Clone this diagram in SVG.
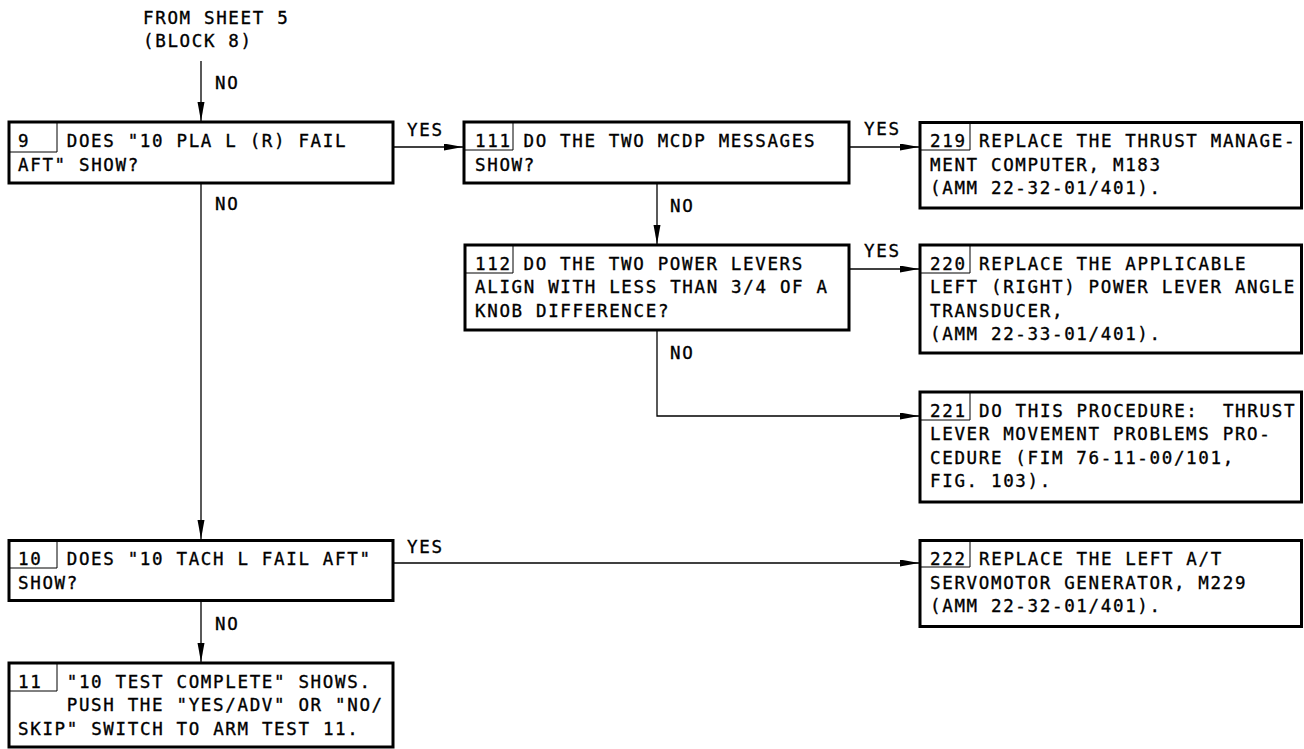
<svg xmlns="http://www.w3.org/2000/svg" width="1304" height="749" viewBox="0 0 1304 749" xml:space="preserve">
<style>
text{font-family:"DejaVu Sans Mono","Liberation Mono",monospace;font-size:17.5px;letter-spacing:1.66px;fill:#000;stroke:#000;stroke-width:0.35px;white-space:pre}
.box{fill:#fff;stroke:#000;stroke-width:3}
.cell{fill:none;stroke:#000;stroke-width:1}
.con{fill:none;stroke:#000;stroke-width:1.3}
</style>
<defs>
<marker id="arr" markerUnits="userSpaceOnUse" markerWidth="20" markerHeight="8" refX="19" refY="3.5" orient="auto">
<path d="M0,0 L19,3.5 L0,7 z" fill="#000"/>
</marker>
</defs>
<rect width="1304" height="749" fill="#fff"/>

<g id="start">
<text x="143" y="24">FROM SHEET 5</text>
<text x="143" y="47">(BLOCK 8)</text>
</g>

<g id="connectors">
<path class="con" d="M201,61 V121" marker-end="url(#arr)"/>
<path class="con" d="M394,147 H463" marker-end="url(#arr)"/>
<path class="con" d="M850,147 H919" marker-end="url(#arr)"/>
<path class="con" d="M657,184 V244" marker-end="url(#arr)"/>
<path class="con" d="M850,269 H919" marker-end="url(#arr)"/>
<path class="con" d="M657,331 V416 H919" marker-end="url(#arr)"/>
<path class="con" d="M201,184 V539" marker-end="url(#arr)"/>
<path class="con" d="M394,563 H919" marker-end="url(#arr)"/>
<path class="con" d="M201,602 V662" marker-end="url(#arr)"/>
<text x="215" y="89">NO</text>
<text x="407" y="136">YES</text>
<text x="864" y="135">YES</text>
<text x="670" y="212">NO</text>
<text x="864" y="257">YES</text>
<text x="670" y="359">NO</text>
<text x="215" y="210">NO</text>
<text x="407" y="553">YES</text>
<text x="215" y="630">NO</text>
</g>

<g id="node9">
<rect class="box" x="9" y="122" width="384" height="61"/>
<path class="cell" d="M9,152 H57 V122"/>
<text x="18" y="147">9</text>
<text x="66.7" y="147">DOES "10 PLA L (R) FAIL</text>
<text x="18" y="170.5">AFT" SHOW?</text>
</g>

<g id="node111">
<rect class="box" x="464" y="122" width="385" height="61"/>
<path class="cell" d="M464,150 H513 V122"/>
<text x="475" y="147">111</text>
<text x="523.5" y="147">DO THE TWO MCDP MESSAGES</text>
<text x="475" y="170.5">SHOW?</text>
</g>

<g id="node219">
<rect class="box" x="920" y="122.5" width="381.5" height="85.5"/>
<path class="cell" d="M920,150 H970 V122.5"/>
<text x="930" y="147">219</text>
<text x="979" y="147">REPLACE THE THRUST MANAGE-</text>
<text x="930" y="170.5">MENT COMPUTER, M183</text>
<text x="930" y="194">(AMM 22-32-01/401).</text>
</g>

<g id="node112">
<rect class="box" x="465" y="245" width="384" height="85"/>
<path class="cell" d="M465,273 H513 V245"/>
<text x="475" y="269.5">112</text>
<text x="523.5" y="269.5">DO THE TWO POWER LEVERS</text>
<text x="475" y="293">ALIGN WITH LESS THAN 3/4 OF A</text>
<text x="475" y="316.5">KNOB DIFFERENCE?</text>
</g>

<g id="node220">
<rect class="box" x="920" y="245" width="381.5" height="108"/>
<path class="cell" d="M920,273 H970 V245"/>
<text x="930" y="269.5">220</text>
<text x="979" y="269.5">REPLACE THE APPLICABLE</text>
<text x="930" y="293">LEFT (RIGHT) POWER LEVER ANGLE</text>
<text x="930" y="316.5">TRANSDUCER,</text>
<text x="930" y="340">(AMM 22-33-01/401).</text>
</g>

<g id="node221">
<rect class="box" x="920" y="392" width="381.5" height="110"/>
<path class="cell" d="M920,420 H970 V392"/>
<text x="930" y="416.5">221</text>
<text x="979" y="416.5">DO THIS PROCEDURE:  THRUST</text>
<text x="930" y="440">LEVER MOVEMENT PROBLEMS PRO-</text>
<text x="930" y="463.5">CEDURE (FIM 76-11-00/101,</text>
<text x="930" y="487">FIG. 103).</text>
</g>

<g id="node10">
<rect class="box" x="9" y="540.5" width="384" height="60"/>
<path class="cell" d="M9,568 H57 V540.5"/>
<text x="18" y="565">10</text>
<text x="66.7" y="565">DOES "10 TACH L FAIL AFT"</text>
<text x="18" y="588.5">SHOW?</text>
</g>

<g id="node222">
<rect class="box" x="920" y="540.5" width="381.5" height="86"/>
<path class="cell" d="M920,567 H970 V540.5"/>
<text x="930" y="565">222</text>
<text x="979" y="565">REPLACE THE LEFT A/T</text>
<text x="930" y="588.5">SERVOMOTOR GENERATOR, M229</text>
<text x="930" y="612">(AMM 22-32-01/401).</text>
</g>

<g id="node11">
<rect class="box" x="9" y="663" width="384" height="84"/>
<path class="cell" d="M9,691 H57 V663"/>
<text x="18" y="687.5">11</text>
<text x="66.7" y="687.5">"10 TEST COMPLETE" SHOWS.</text>
<text x="66.7" y="711">PUSH THE "YES/ADV" OR "NO/</text>
<text x="18" y="734.5">SKIP" SWITCH TO ARM TEST 11.</text>
</g>
</svg>
